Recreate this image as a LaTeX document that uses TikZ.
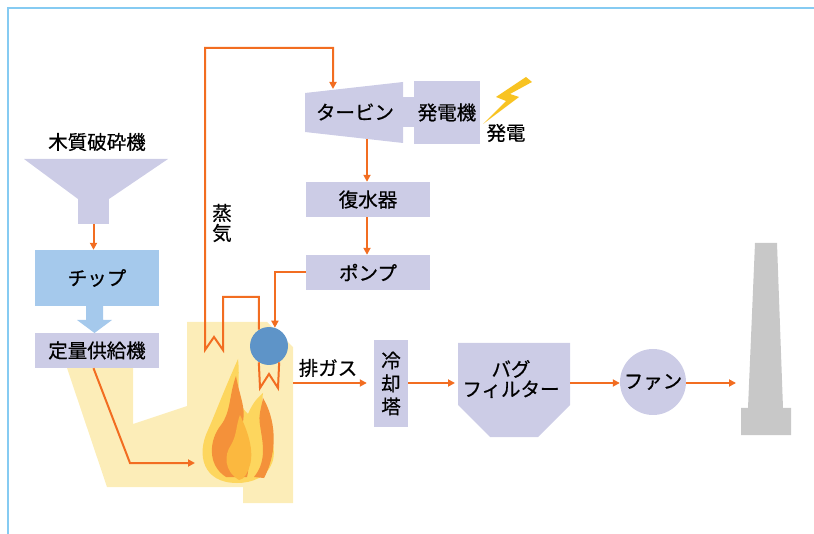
\documentclass[tikz,border=0pt]{standalone}
\usepackage{fontspec}
\newfontfamily\jp[FakeBold=0.6]{Noto Sans CJK JP}
\usetikzlibrary{arrows.meta}
\definecolor{lav}{HTML}{CCCCE6}
\definecolor{chipblue}{HTML}{A5C9EC}
\definecolor{flow}{HTML}{F26D21}
\definecolor{furnace}{HTML}{FCEDB8}
\definecolor{drumblue}{HTML}{5E94C8}
\definecolor{frameblue}{HTML}{86CBF2}
\definecolor{stackgrey}{HTML}{C8C8C8}
\definecolor{flameout}{HTML}{FDD65E}
\definecolor{flamemid}{HTML}{F4913A}
\definecolor{flamein}{HTML}{FBB83F}
\definecolor{bolt}{HTML}{F8C322}
\begin{document}
\begin{tikzpicture}[x=1pt,y=-1pt,
  lbl/.style={font=\jp\fontsize{19.5}{20}\selectfont, text=black},
  box/.style={fill=lav, inner sep=0pt, lbl},
  flowline/.style={draw=flow, line width=2pt},
  flowarrow/.style={flowline, -{Triangle[length=7pt,width=7pt]}},
]
\useasboundingbox (0,0) rectangle (814,534);

% outer frame (top and left edges only)
\draw[frameblue, line width=1.5pt] (8,534) -- (8,8) -- (814,8);

% boiler / furnace body
\fill[furnace] (67,368) -- (133,368) -- (133,424) -- (187,406) -- (187,322)
  -- (267,322) -- (293,347) -- (293,503) -- (243,503) -- (243,487)
  -- (107,487) -- cycle;

% flame
\fill[flameout] (237,483) .. controls (203,483) and (196,455) .. (208,430)
  .. controls (216,412) and (222,395) .. (238,359)
  .. controls (241,385) and (233,400) .. (248,414)
  .. controls (252,405) and (255,400) .. (263,393)
  .. controls (259,412) and (278,440) .. (273,460)
  .. controls (268,478) and (251,483) .. (237,483) -- cycle;
\fill[flamemid] (226,477) .. controls (207,465) and (209,440) .. (221,425)
  .. controls (231,412) and (229,395) .. (236,376)
  .. controls (240,398) and (247,410) .. (242,425)
  .. controls (237,440) and (253,455) .. (247,477) -- cycle;
\fill[flamemid] (254,477) .. controls (268,460) and (262,440) .. (260,425)
  .. controls (258,415) and (262,405) .. (263,398)
  .. controls (275,418) and (279,450) .. (264,478) -- cycle;
\fill[flamein] (239,480) .. controls (224,471) and (224,455) .. (231,445)
  .. controls (237,435) and (236,425) .. (240,415)
  .. controls (248,432) and (254,450) .. (250,465)
  .. controls (248,472) and (244,480) .. (239,480) -- cycle;

% wood crusher hopper
\node[lbl] (crusher) at (97,142) {木質破砕機};
\fill[lav] (24,159) -- (168,159) -- (109,199) -- (78,199) -- cycle;
\node[fill=lav, inner sep=0pt, minimum width=31pt, minimum height=25pt] (neck) at (93.5,211.5) {};

% chip store and feeder
\node[box, fill=chipblue, minimum width=124pt, minimum height=56pt] (chip) at (97,278) {チップ};
\node[box, minimum width=124pt, minimum height=35pt] (feeder) at (97,350.5) {定量供給機};
\fill[chipblue] (86,306) -- (103,306) -- (103,320) -- (112,320) -- (94.5,333)
  -- (77,320) -- (86,320) -- cycle;
\draw[flowarrow] (neck.south) -- (neck.south |- chip.north);

% feed into the flame
\coordinate (feedin) at (195,463);
\draw[flowarrow] (feeder.south -| neck.south) -- (130,463) -- (feedin);

% turbine and generator
\fill[lav] (305,93) -- (403,82) -- (403,143) -- (305,132) -- cycle;
\fill[lav] (403,97) rectangle (414,127);
\node[lbl] (turbine) at (355,112) {タービン};
\node[box, minimum width=66pt, minimum height=63pt] (gen) at (447,112.5) {発電機};
\coordinate (turbin) at (333,89);
\coordinate (turbout) at (367,139);

% lightning bolt and output label
\fill[bolt] (526,77) -- (496,97) -- (506,101) -- (483,124) -- (519,97)
  -- (510,94) -- (532,82) -- cycle;
\node[lbl] (power) at (506,133) {発電};

% condenser and feed pump
\node[box, minimum width=124pt, minimum height=35pt] (cond) at (368,199.5) {復水器};
\node[box, minimum width=124pt, minimum height=35pt] (pump) at (368,272.5) {ポンプ};
\draw[flowarrow] (turbout) -- (turbout |- cond.north);
\draw[flowarrow] (cond.south -| turbout) -- (turbout |- pump.north);

% steam drum
\node[circle, fill=drumblue, minimum size=38pt, inner sep=0pt] (drum) at (269,346) {};

% superheater tube and main steam line
\draw[flowarrow, line join=miter] (drum.122) |- (223,297) -- (223,350) -- (214,337)
  -- (205,350) -- (205,48) -| (turbin);
% evaporator tube below the drum
\draw[flowline, line join=miter] (drum.238) -- (260,388) -- (269,374) -- (278,388) -- (drum.302);
% feed water return
\draw[flowarrow] (pump.west) -| (drum.72);

\node[lbl, align=center] (steam) at (222,223) {蒸\\気};

% flue gas train
\coordinate (gasout) at (293,383);
\node[lbl] (gaslbl) at (328,368) {排ガス};
\node[box, minimum width=34pt, minimum height=87pt, align=center,
  font=\jp\fontsize{19.5}{23}\selectfont] (cool) at (391,383.5) {冷\\却\\塔};
\draw[flowarrow, shorten >=7pt] (gasout) -- (gasout -| cool.west);

\fill[lav] (458,343) -- (570,343) -- (570,405) -- (538,437) -- (490,437)
  -- (458,405) -- cycle;
\node[lbl, align=center] (bag) at (511,379) {バグ\\フィルター};
\coordinate (bagW) at (458,383);
\coordinate (bagE) at (570,383);
\draw[flowarrow, shorten >=3pt] (cool.east |- bagW) -- (bagW);

\node[circle, fill=lav, minimum size=66pt, inner sep=0pt, lbl] (fan) at (653,382) {ファン};
\draw[flowarrow] (bagE) -- (fan.west |- bagE);

% stack
\fill[stackgrey] (755,243) -- (777,243) -- (783,408) -- (791,408) -- (791,435)
  -- (741,435) -- (741,408) -- (748,408) -- cycle;
\coordinate (stackin) at (736,383);
\draw[flowarrow] (fan.east |- stackin) -- (stackin);
\end{tikzpicture}
\end{document}
